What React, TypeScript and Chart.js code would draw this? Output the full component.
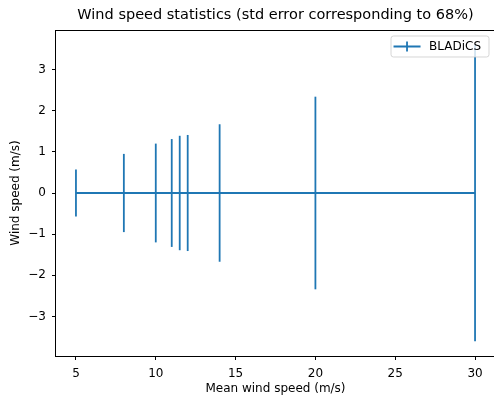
import React, { useEffect, useRef } from "react";
import { Chart, registerables } from "chart.js";

Chart.register(...registerables);

const xValues = [5, 8, 10, 11, 11.5, 12, 14, 20, 30];
const yValues = [0, 0, 0, 0, 0, 0, 0, 0, 0];
const yErrors = [0.57, 0.95, 1.2, 1.31, 1.39, 1.41, 1.67, 2.34, 3.6];
const xTicks = [5, 10, 15, 20, 25, 30];
const yTicks = [-3, -2, -1, 0, 1, 2, 3];
const seriesLabel = "BLADiCS";
const titleText = "Wind speed statistics (std error corresponding to 68%)";
const xTitle = "Mean wind speed (m/s)";
const yTitle = "Wind speed (m/s)";

const COLOR = "#1f77b4";
const FONT = "'DejaVu Sans', sans-serif";
const TEXT = "#000";

const fmt = (v: number | string) => String(v).replace("-", "\u2212");

const decorPlugin = {
  id: "mplDecor",
  afterDatasetsDraw(chart: any) {
    const { ctx, chartArea, scales } = chart;
    const xs = scales.x;
    const ys = scales.y;
    ctx.save();
    ctx.beginPath();
    ctx.rect(chartArea.left, chartArea.top, chartArea.right - chartArea.left, chartArea.bottom - chartArea.top);
    ctx.clip();
    ctx.strokeStyle = COLOR;
    ctx.lineWidth = 1.8;
    xValues.forEach((x, i) => {
      const px = xs.getPixelForValue(x);
      ctx.beginPath();
      ctx.moveTo(px, ys.getPixelForValue(yValues[i] + yErrors[i]));
      ctx.lineTo(px, ys.getPixelForValue(yValues[i] - yErrors[i]));
      ctx.stroke();
    });
    ctx.restore();
  },
  afterDraw(chart: any) {
    const { ctx, chartArea } = chart;
    const l = Math.round(chartArea.left) - 0.5;
    const t = Math.round(chartArea.top) + 0.5;
    const r = Math.round(chartArea.right) - 0.5;
    const b = Math.round(chartArea.bottom) + 0.5;
    ctx.save();
    // spines
    ctx.strokeStyle = "#000";
    ctx.lineWidth = 1;
    ctx.strokeRect(l, t, r - l, b - t);

    // title
    ctx.fillStyle = TEXT;
    ctx.font = `14.5px ${FONT}`;
    ctx.textAlign = "center";
    ctx.textBaseline = "middle";
    ctx.fillText(titleText, (chartArea.left + chartArea.right) / 2, 15);

    // legend
    ctx.font = `12px ${FONT}`;
    const tw = ctx.measureText(seriesLabel).width;
    const boxR = chartArea.right - 6;
    const boxT = chartArea.top + 6;
    const boxH = 21;
    const boxW = 2.5 + 27 + 8.5 + tw + 8;
    const boxL = boxR - boxW;
    ctx.fillStyle = "rgba(255,255,255,0.8)";
    ctx.strokeStyle = "rgba(204,204,204,0.8)";
    ctx.lineWidth = 1;
    ctx.beginPath();
    const rr = 2.5;
    ctx.moveTo(boxL + rr, boxT);
    ctx.arcTo(boxR, boxT, boxR, boxT + boxH, rr);
    ctx.arcTo(boxR, boxT + boxH, boxL, boxT + boxH, rr);
    ctx.arcTo(boxL, boxT + boxH, boxL, boxT, rr);
    ctx.arcTo(boxL, boxT, boxR, boxT, rr);
    ctx.closePath();
    ctx.fill();
    ctx.stroke();
    const cy = boxT + boxH / 2;
    ctx.strokeStyle = COLOR;
    ctx.lineWidth = 1.8;
    ctx.beginPath();
    ctx.moveTo(boxL + 2.5, cy);
    ctx.lineTo(boxL + 29.5, cy);
    ctx.moveTo(boxL + 16, cy - 5);
    ctx.lineTo(boxL + 16, cy + 5);
    ctx.stroke();
    ctx.fillStyle = TEXT;
    ctx.textAlign = "left";
    ctx.textBaseline = "middle";
    ctx.fillText(seriesLabel, boxL + 38, cy + 0.5);
    ctx.restore();
  },
};

export default function App() {
  const ref = useRef<HTMLCanvasElement>(null);
  useEffect(() => {
    document.body.style.margin = "0";
    const canvas = ref.current;
    if (!canvas) return;
    const chart = new Chart(canvas, {
      type: "scatter",
      data: {
        datasets: [
          {
            label: seriesLabel,
            data: xValues.map((x, i) => ({ x, y: yValues[i] })),
            showLine: true,
            borderColor: COLOR,
            backgroundColor: COLOR,
            borderWidth: 1.8,
            pointRadius: 0,
            pointHoverRadius: 0,
          },
        ],
      },
      options: {
        responsive: false,
        devicePixelRatio: 1,
        animation: false,
        events: [],
        layout: { padding: { top: 30, right: 7, left: 0, bottom: 0 } },
        plugins: { legend: { display: false }, tooltip: { enabled: false }, title: { display: false } },
        scales: {
          x: {
            type: "linear",
            min: 3.75,
            max: 31.25,
            afterBuildTicks: (s: any) => {
              s.ticks = xTicks.map((v) => ({ value: v }));
            },
            afterFit: (s: any) => {
              s.height = 44;
            },
            grid: { drawOnChartArea: false, drawTicks: true, tickLength: 4, color: "#000", lineWidth: 1 },
            border: { display: false },
            ticks: {
              font: { family: FONT, size: 12 },
              color: TEXT,
              padding: 7,
              maxRotation: 0,
              autoSkip: false,
              callback: (v: any) => fmt(v),
            },
            title: {
              display: true,
              text: xTitle,
              font: { family: FONT, size: 12 },
              color: TEXT,
              padding: { top: 0, bottom: 3.5 },
            },
          },
          y: {
            type: "linear",
            min: -3.96,
            max: 3.96,
            afterBuildTicks: (s: any) => {
              s.ticks = yTicks.map((v) => ({ value: v }));
            },
            afterFit: (s: any) => {
              s.width = 56;
            },
            grid: { drawOnChartArea: false, drawTicks: true, tickLength: 4, color: "#000", lineWidth: 1 },
            border: { display: false },
            ticks: {
              font: { family: FONT, size: 12 },
              color: TEXT,
              padding: 6,
              autoSkip: false,
              callback: (v: any) => fmt(v),
            },
            title: {
              display: true,
              text: yTitle,
              font: { family: FONT, size: 12 },
              color: TEXT,
              padding: { top: 9, bottom: 0 },
            },
          },
        },
      },
      plugins: [decorPlugin],
    } as any);
    return () => chart.destroy();
  }, []);
  return (
    <div
      style={{
        position: "absolute",
        left: 0,
        top: 0,
        width: 494,
        height: 400,
        overflow: "hidden",
        background: "#fff",
      }}
    >
      <canvas ref={ref} width={502} height={400} style={{ width: 502, height: 400, display: "block" }} />
    </div>
  );
}
